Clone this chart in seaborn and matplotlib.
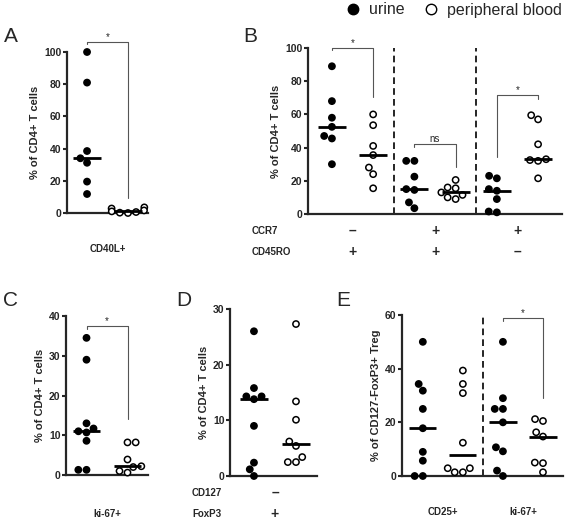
import numpy as np
import pandas as pd
import matplotlib
matplotlib.use("Agg")
import matplotlib.pyplot as plt
import seaborn as sns
from matplotlib.lines import Line2D
from matplotlib.transforms import blended_transform_factory

# ---------------- data ----------------
A_urine = [100, 81, 38.5, 34, 31.2, 19.5, 11.8]
A_blood = [3.5, 2.8, 1.6, 1.0, 0.6, 0.2, 0.0]

B_urine_1 = [89, 68, 58, 52.5, 47, 45.5, 30]
B_blood_1 = [60, 53.5, 41, 35.5, 28, 24, 15.5]
B_urine_2 = [32, 32, 22.5, 15, 14.5, 7, 3.5]
B_blood_2 = [20.5, 16, 15.5, 13, 11.5, 10, 9]
B_urine_3 = [23, 21.5, 15, 14, 9, 1.5, 1]
B_blood_3 = [59.5, 57, 42, 33, 32.5, 32, 21.5]
B_ccr7 = ["–", "+", "+"]
B_cd45ro = ["+", "+", "–"]

C_urine = [34.5, 29, 13, 11.7, 11, 10.7, 8.6, 1.3, 1.3]
C_blood = [8.2, 8.2, 3.9, 2.2, 2.0, 1.0, 0.6]

D_urine = [26, 15.8, 14.3, 14.3, 13.8, 9, 2.4, 1.2, 0]
D_blood = [27.3, 13.4, 10.1, 6.2, 5.4, 3.4, 2.5, 2.5]

E_urine_1 = [50, 34.3, 31.8, 25, 17.8, 9, 5.7, 0, 0]
E_blood_1 = [39.3, 34.3, 30.9, 12.4, 2.9, 2.9, 1.4, 1.4]
E_urine_2 = [50, 29, 25, 25, 20, 10.7, 9.2, 2, 0]
E_blood_2 = [21.2, 20.5, 16.3, 14.7, 5, 4.8, 1.4]
E_groups = ["CD25+", "ki-67+"]

# ---------------- style ----------------
sns.set_style("ticks")
plt.rcParams["font.family"] = ["Liberation Sans", "DejaVu Sans"]

W, H = 567, 520
fig = plt.figure(figsize=(W / 100, H / 100), dpi=100)


def add_axes(l, r, t, b):
    return fig.add_axes([l / W, 1 - b / H, (r - l) / W, (b - t) / H])


def draw_panel(ax, groups, ymax, yticks, xlim, ylabel):
    rows, order = [], []
    for i, (u, bl) in enumerate(groups):
        cu, cb = f"u{i}", f"b{i}"
        order += [cu, cb]
        rows += [(cu, v, "urine") for v in u] + [(cb, v, "blood") for v in bl]
    df = pd.DataFrame(rows, columns=["cat", "value", "source"])
    sns.swarmplot(data=df, x="cat", y="value", hue="source", order=order,
                  hue_order=["urine", "blood"],
                  palette={"urine": "black", "blood": "white"},
                  edgecolor="black", linewidth=1.1, size=4.5, legend=False,
                  ax=ax, clip_on=False, zorder=3, warn_thresh=1)
    for k, cat in enumerate(order):
        med = np.median(df.loc[df["cat"] == cat, "value"])
        ax.hlines(med, k - 0.34, k + 0.34, color="black", lw=2, zorder=4)
    ax.set_ylim(0, ymax)
    ax.set_xlim(*xlim)
    ax.set_yticks(yticks)
    ax.set_yticklabels([str(t) for t in yticks], fontweight="bold", fontsize=7.5)
    ax.set_xticks([])
    ax.set_xlabel("")
    ax.set_ylabel(ylabel, fontsize=8, fontweight="bold", labelpad=3)
    sns.despine(ax=ax)
    for s in ("left", "bottom"):
        ax.spines[s].set_linewidth(1.6)
    ax.tick_params(axis="y", length=3, width=1.5, pad=1)
    ax.patch.set_alpha(0)


def bracket(ax, x1, x2, top, lb, rb, text, fs=7):
    ax.plot([x1, x1, x2, x2], [lb, top, top, rb], color="#555555", lw=0.8,
            clip_on=False, zorder=2)
    ax.text((x1 + x2) / 2, top, text, ha="center", va="bottom", fontsize=fs,
            clip_on=False)


def cat_text(ax, x, ypix, s, **kw):
    tr = blended_transform_factory(ax.transData, fig.transFigure)
    ax.text(x, 1 - ypix / H, s, transform=tr, va="center", **kw)


ylab = "% of CD4+ T cells"

# Panel A
axA = add_axes(67, 148, 52, 213)
draw_panel(axA, [(A_urine, A_blood)], 100, [0, 20, 40, 60, 80, 100], (-0.49, 1.49), ylab)
bracket(axA, 0, 1, 106, 105, 9.3, "*")
cat_text(axA, 0.5, 249, "CD40L+", ha="center", fontsize=7, fontweight="bold")

# Panel B
axB = add_axes(308, 562, 48, 214)
draw_panel(axB, [(B_urine_1, B_blood_1), (B_urine_2, B_blood_2), (B_urine_3, B_blood_3)],
           100, [0, 20, 40, 60, 80, 100], (-0.58, 5.58), ylab)
for xd in (1.5, 3.5):
    axB.plot([xd, xd], [0, 100], color="black", lw=1.2, ls=(0, (4, 2.5)), zorder=1)
bracket(axB, 0, 1, 100, 98.5, 70.3, "*")
bracket(axB, 2, 3, 42.2, 40.5, 28.5, "ns")
bracket(axB, 4, 5, 71.7, 34.5, 69.5, "*")
fig.text(252 / W, 1 - 231 / H, "CCR7", fontsize=7, fontweight="bold", va="center")
fig.text(252 / W, 1 - 252 / H, "CD45RO", fontsize=7, fontweight="bold", va="center")
for i, (s1, s2) in enumerate(zip(B_ccr7, B_cd45ro)):
    cat_text(axB, 2 * i + 0.5, 231, s1, ha="center", fontsize=10, fontweight="bold")
    cat_text(axB, 2 * i + 0.5, 252, s2, ha="center", fontsize=10, fontweight="bold")

# Panel C
axC = add_axes(66, 148, 316, 475)
draw_panel(axC, [(C_urine, C_blood)], 40, [0, 10, 20, 30, 40], (-0.5, 1.5), ylab)
bracket(axC, 0, 1, 37.5, 36.8, 14.1, "*")
cat_text(axC, 0.5, 514, "ki-67+", ha="center", fontsize=7, fontweight="bold")

# Panel D
axD = add_axes(230, 317, 309, 476)
draw_panel(axD, [(D_urine, D_blood)], 30, [0, 10, 20, 30], (-0.57, 1.5), ylab)
fig.text(192 / W, 1 - 493 / H, "CD127", fontsize=7, fontweight="bold", va="center")
fig.text(192 / W, 1 - 514 / H, "FoxP3", fontsize=7, fontweight="bold", va="center")
cat_text(axD, 0.5, 493, "–", ha="center", fontsize=10, fontweight="bold")
cat_text(axD, 0.5, 514, "+", ha="center", fontsize=10, fontweight="bold")

# Panel E
axE = add_axes(402, 563, 315, 476)
draw_panel(axE, [(E_urine_1, E_blood_1), (E_urine_2, E_blood_2)], 60, [0, 20, 40, 60],
           (-0.52, 3.5), "% of CD127-FoxP3+ Treg")
axE.plot([1.5, 1.5], [0, 60], color="black", lw=1.2, ls=(0, (4, 2.5)), zorder=1)
bracket(axE, 2, 3, 59, 57.6, 29.1, "*")
for i, g in enumerate(E_groups):
    cat_text(axE, 2 * i + 0.5, 512, g, ha="center", fontsize=7, fontweight="bold")

# Panel letters
for letter, (px, py) in {"A": (11, 37), "B": (250, 36), "C": (10, 300),
                         "D": (184, 300), "E": (343, 300)}.items():
    fig.text(px / W, 1 - py / H, letter, fontsize=15, ha="center", va="center")

# Legend
handles = [Line2D([], [], marker="o", ls="", markersize=7.5, mfc="black", mec="black"),
           Line2D([], [], marker="o", ls="", markersize=7.5, mfc="white", mec="black", mew=1)]
fig.legend(handles, ["urine", "peripheral blood"], loc="center left",
           bbox_to_anchor=(343 / W, 1 - 10 / H), ncol=2, frameon=False, fontsize=11.5,
           handletextpad=0.4, columnspacing=1.1, handlelength=1.2, borderpad=0,
           borderaxespad=0)

fig.savefig("out.png", dpi=100)
